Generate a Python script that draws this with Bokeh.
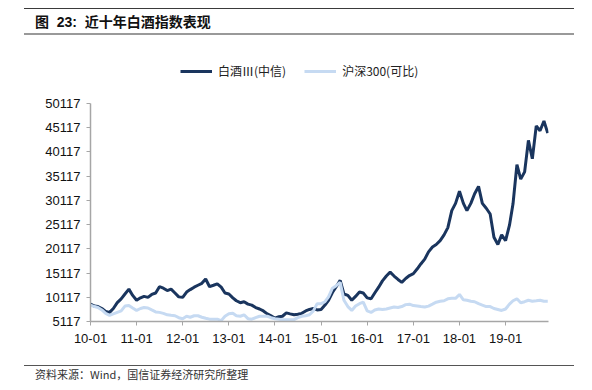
import pandas as pd
from bokeh.plotting import figure
from bokeh.layouts import column
from bokeh.models import (ColumnDataSource, Range1d, FixedTicker, DatetimeTickFormatter,
                          Legend, LegendItem, Div)
from bokeh.embed import file_html
from bokeh.resources import INLINE

# ---- data (monthly) ----
months = pd.date_range("2010-01-01", periods=120, freq="MS")

baijiu = [
    8700, 8300, 8200, 7800, 7200, 7000, 7800, 9000, 9800, 10800, 11800, 10500,      # 2010
    9500, 10000, 10300, 10100, 10700, 11000, 12300, 12000, 11500, 11800, 11000, 10200,  # 2011
    10100, 11200, 11700, 12200, 12600, 13000, 13900, 12300, 12600, 12900, 12200, 11000,  # 2012
    10800, 10000, 9400, 9000, 9200, 8700, 8500, 8000, 7700, 7300, 6700, 6300,       # 2013
    5800, 6100, 6200, 6900, 6700, 6500, 6600, 6800, 7300, 7600, 7800, 7500,         # 2014
    7600, 8500, 9500, 11100, 12300, 13600, 10800, 10500, 9500, 10300, 11200, 11000,  # 2015
    10000, 9800, 11000, 12200, 13500, 14500, 15300, 14500, 13800, 13200, 14000, 14600,  # 2016
    15000, 16000, 17000, 18000, 19500, 20500, 21000, 21800, 23000, 24500, 28000, 29500,  # 2017
    32000, 29500, 28000, 29500, 31500, 33000, 29500, 28500, 27300, 22500, 21000, 23000,  # 2018
    21800, 25000, 29400, 37500, 34500, 36000, 42500, 38700, 45500, 44500, 46500, 44000,  # 2019
]

csi300 = [
    8500, 8200, 8000, 7500, 6800, 6400, 6700, 7000, 7300, 8300, 8400, 7900,   # 2010
    7400, 7800, 8000, 7900, 7500, 7100, 7000, 6800, 6500, 6400, 6300, 5900,   # 2011
    5700, 6200, 6000, 6300, 6300, 6000, 5800, 5600, 5600, 5600, 5300, 6200,   # 2012
    6700, 6800, 6300, 6200, 6500, 5700, 5600, 5900, 6200, 6200, 6200, 5900,   # 2013
    5700, 5600, 5500, 5500, 5500, 5500, 5900, 6200, 6300, 6500, 7300, 8800,   # 2014
    8800, 9200, 10200, 12000, 12500, 13200, 9500, 8200, 7400, 8300, 8800, 9100,  # 2015
    7300, 7000, 7500, 7700, 7600, 7700, 7900, 8100, 8000, 8200, 8600, 8700,   # 2016
    8400, 8300, 8200, 8100, 8300, 8700, 9100, 9300, 9400, 9800, 9900, 9900,   # 2017
    10700, 9600, 9500, 9300, 9200, 8800, 8500, 8200, 8200, 7800, 7600, 7400,  # 2018
    7700, 8700, 9400, 9800, 9000, 9200, 9500, 9300, 9400, 9500, 9300, 9300,   # 2019
]

y_ticks = [5117, 10117, 15117, 20117, 25117, 30117, 35117, 40117, 45117, 50117]
x_tick_dates = ["2010-01-01", "2011-01-01", "2012-01-01", "2013-01-01", "2014-01-01",
                "2015-01-01", "2016-01-01", "2017-01-01", "2018-01-01", "2019-01-01"]

series_names = ["白酒Ⅲ(中信)", "沪深300(可比)"]
title_html = "图&nbsp;&nbsp;23:&nbsp;&nbsp;近十年白酒指数表现"
source_text = "资料来源：Wind，国信证券经济研究所整理"

DARK = "#1a355e"
LIGHT = "#c6daf2"
CJK = "Noto Sans CJK SC"
LAT = "Liberation Sans"

src = ColumnDataSource(dict(date=months, baijiu=baijiu, csi=csi300))

W = 576
# frame spans 265 px; the y scale is 45000 units per 218 px, so the range is
# extended above 50117 to leave room for the legend inside the frame
y_top = 5117 + 265 * 45000 / 218

p = figure(width=W, height=311, x_axis_type="datetime", output_backend="svg",
           toolbar_location=None,
           x_range=Range1d(pd.Timestamp("2010-01-01"), pd.Timestamp("2019-12-07")),
           y_range=Range1d(5117, y_top),
           min_border_left=90, min_border_right=28, min_border_top=16, min_border_bottom=30)

r1 = p.line("date", "baijiu", source=src, line_color=DARK, line_width=3)
r2 = p.line("date", "csi", source=src, line_color=LIGHT, line_width=3)

p.outline_line_color = None
p.xgrid.grid_line_color = None
p.ygrid.grid_line_color = None
p.background_fill_alpha = 0
p.border_fill_alpha = 0

p.yaxis.ticker = FixedTicker(ticks=y_ticks)
p.yaxis.bounds = (5117, 50117)
p.xaxis.ticker = FixedTicker(ticks=[pd.Timestamp(d).timestamp() * 1000 for d in x_tick_dates])
fmt = "%y-%m"
p.xaxis.formatter = DatetimeTickFormatter(years=fmt, months=fmt, days=fmt, hours=fmt,
                                          minutes=fmt, seconds=fmt, milliseconds=fmt,
                                          microseconds=fmt, minsec=fmt, hourmin=fmt)
for ax in (p.xaxis, p.yaxis):
    ax.axis_line_color = "#a6a6a6"
    ax.axis_line_width = 1.5
    ax.major_tick_line_color = "#a6a6a6"
    ax.major_tick_in = 0
    ax.major_tick_out = 4
    ax.minor_tick_line_color = None
    ax.major_label_text_font = LAT
    ax.major_label_text_font_size = "13px"
    ax.major_label_text_color = "#111111"
p.yaxis.major_label_standoff = 6
p.xaxis.major_label_standoff = 8

legend = Legend(items=[LegendItem(label=series_names[0], renderers=[r1]),
                       LegendItem(label=series_names[1], renderers=[r2])],
                orientation="horizontal", location=(90, 242),
                label_text_font=CJK, label_text_font_size="12px", label_text_color="#222222",
                glyph_width=32, glyph_height=12, label_standoff=6, spacing=18,
                padding=0, margin=0, border_line_color=None, background_fill_alpha=0)
p.add_layout(legend)

title_div = Div(width=W, height=40, margin=(0, 0, 0, 0), text=(
    '<div style="margin-left:24px; width:550px;">'
    '<div style="height:9px; border-bottom:1.5px solid #3a3a3a;"></div>'
    '<div style="padding-left:11px; height:26px; line-height:26px; '
    'border-bottom:2px solid #999999; '
    f'font-family:\'{LAT}\',\'{CJK}\'; font-size:14px; font-weight:bold; color:#111; '
    f'white-space:nowrap;">{title_html}</div>'
    '</div>'))

footer_div = Div(width=W, height=36, margin=(0, 0, 0, 0), text=(
    '<div style="margin-left:24px; width:550px;">'
    '<div style="height:15px; border-bottom:1.5px solid #555555;"></div>'
    '<div style="padding-left:11px; line-height:16px; '
    f'font-family:\'{CJK}\'; font-size:11px; color:#333; white-space:nowrap;">'
    f'{source_text}</div></div>'))

layout = column(title_div, p, footer_div, spacing=0)

open("out.html", "w").write(file_html(layout, INLINE))
